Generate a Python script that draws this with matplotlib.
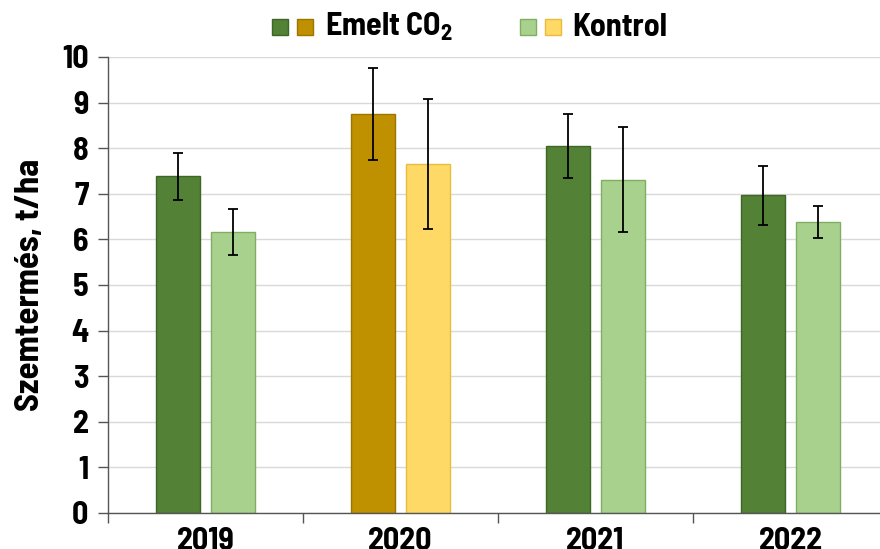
import matplotlib
matplotlib.use("Agg")
import matplotlib.pyplot as plt
from matplotlib.patches import Rectangle
from matplotlib import font_manager
import numpy as np

years = ["2019", "2020", "2021", "2022"]
elevated = [7.38, 8.75, 8.05, 6.97]
elevated_err = [0.51, 1.00, 0.70, 0.65]
control = [6.16, 7.65, 7.31, 6.38]
control_err = [0.50, 1.42, 1.15, 0.35]

green_dark, green_dark_edge = "#538135", "#3e6627"
gold, gold_edge = "#BF9000", "#9c7600"
green_light, green_light_edge = "#A9D18E", "#7fae62"
yellow, yellow_edge = "#FFD966", "#e8bd3c"

elev_face = [green_dark, gold, green_dark, green_dark]
elev_edge = [green_dark_edge, gold_edge, green_dark_edge, green_dark_edge]
ctrl_face = [green_light, yellow, green_light, green_light]
ctrl_edge = [green_light_edge, yellow_edge, green_light_edge, green_light_edge]

names = {f.name for f in font_manager.fontManager.ttflist}
family = "Barlow Semi Condensed" if "Barlow Semi Condensed" in names else "Roboto"
plt.rcParams["font.family"] = [family, "DejaVu Sans"]
plt.rcParams["font.weight"] = "bold"
plt.rcParams["mathtext.fontset"] = "custom"
plt.rcParams["mathtext.bf"] = f"{family}:bold"
plt.rcParams["mathtext.rm"] = f"{family}:bold"

FS = 23

W, H = 880, 549
fig = plt.figure(figsize=(W / 100, H / 100), dpi=100)
ax = fig.add_axes([108 / W, 36 / H, 780 / W, 456 / H])

x = np.arange(len(years))
bw = 0.226
off = 0.141
ax.bar(x - off, elevated, bw, color=elev_face, edgecolor=elev_edge, linewidth=1, zorder=2)
ax.bar(x + off, control, bw, color=ctrl_face, edgecolor=ctrl_edge, linewidth=1, zorder=2)
ax.errorbar(x - off, elevated, yerr=elevated_err, fmt="none", ecolor="black",
            elinewidth=1.3, capsize=3.5, capthick=1.3, zorder=3)
ax.errorbar(x + off, control, yerr=control_err, fmt="none", ecolor="black",
            elinewidth=1.3, capsize=3.5, capthick=1.3, zorder=3)

ax.set_xlim(-0.5, len(years) - 0.5)
ax.set_ylim(0, 10)
ax.set_yticks(range(0, 11))
ax.yaxis.grid(True, color="#d9d9d9", linewidth=1, zorder=0)
ax.set_axisbelow(True)

ax.set_xticks(x)
ax.set_xticklabels(years, fontsize=FS, fontweight="bold")
ax.set_xticks(np.arange(-0.5, len(years) + 0.5, 1), minor=True)
ax.tick_params(axis="x", which="major", length=0, pad=10)
ax.tick_params(axis="x", which="minor", length=7, width=1, color="#555555")
ax.tick_params(axis="y", length=7, width=1, color="#555555", labelsize=FS, pad=7)
for lab in ax.get_yticklabels():
    lab.set_fontweight("bold")

for s in ["top", "right"]:
    ax.spines[s].set_visible(False)
for s in ["left", "bottom"]:
    ax.spines[s].set_color("#555555")
    ax.spines[s].set_linewidth(1)

ax.set_ylabel("Szemtermés, t/ha", fontsize=25, fontweight="bold", labelpad=12)

# legend drawn in figure coordinates
def square(px, color, edge):
    fig.add_artist(Rectangle((px / W, (H - 35) / H), 16 / W, 16 / H,
                             transform=fig.transFigure, facecolor=color,
                             edgecolor=edge, linewidth=1))

square(272, green_dark, green_dark_edge)
square(297, gold, gold_edge)
square(520, green_light, green_light_edge)
square(545, yellow, yellow_edge)
fig.text(325 / W, (H - 27) / H, r"Emelt CO$_\mathbf{2}$", fontsize=FS, fontweight="bold",
         va="center", ha="left")
fig.text(572 / W, (H - 27) / H, "Kontrol", fontsize=FS, fontweight="bold",
         va="center", ha="left")

fig.savefig("out.png", dpi=100)
